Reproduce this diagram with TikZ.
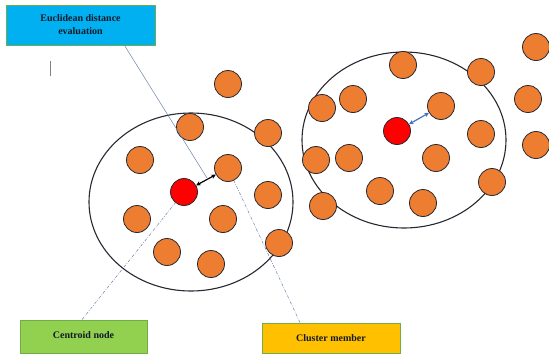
\documentclass[tikz,border=0pt]{standalone}
\usepackage{fontspec}
\setmainfont{Liberation Serif}
\usetikzlibrary{arrows.meta,calc}
\definecolor{orng}{RGB}{237,125,49}
\definecolor{rimc}{RGB}{40,40,50}
\definecolor{bluebox}{RGB}{0,176,240}
\definecolor{greenbox}{RGB}{146,208,80}
\definecolor{yelbox}{RGB}{255,192,0}
\definecolor{boxrim}{RGB}{112,173,71}
\definecolor{guide}{RGB}{110,130,170}
\definecolor{arrblue}{RGB}{68,114,196}
\definecolor{txt}{RGB}{20,25,40}
\tikzset{
  member/.style={circle,draw=rimc,line width=0.8pt,fill=orng,minimum size=27pt,inner sep=0pt},
  centroid/.style={circle,draw=rimc,line width=0.8pt,fill=red,minimum size=27pt,inner sep=0pt},
  cluster/.style={draw=rimc,line width=1.1pt},
  label box/.style={draw=boxrim,line width=0.8pt,inner sep=0pt,font=\fontsize{10}{13}\selectfont\bfseries,align=center,text=txt},
  guideline/.style={draw=guide,line width=0.5pt},
  dashguide/.style={draw=guide,line width=0.5pt,dash pattern=on 3pt off 1.5pt on 0.7pt off 1.5pt},
}
\begin{document}
\begin{tikzpicture}[x=1pt,y=-1pt]
\useasboundingbox (0,0) rectangle (549,354);
\fill[white] (0,0) rectangle (549,354);
% cluster ellipses
\draw[cluster] (191,202) ellipse [x radius=102, y radius=89];
\draw[cluster] (404,140) ellipse [x radius=102, y radius=88];
% left cluster
\node[member] (a1) at (190,127) {};
\node[member] (a2) at (268,133) {};
\node[member] (a3) at (140,160) {};
\node[member] (a4) at (228,168) {};
\node[member] (a5) at (268,195) {};
\node[member] (a6) at (137,219) {};
\node[member] (a7) at (223,219) {};
\node[member] (a8) at (279,243) {};
\node[member] (a9) at (167,252) {};
\node[member] (a10) at (211,264) {};
\node[member] (a11) at (228,84) {};
\node[centroid] (ca) at (184,192) {};
% right cluster
\node[member] (b1) at (403,65) {};
\node[member] (b2) at (481,72) {};
\node[member] (b3) at (536,47) {};
\node[member] (b4) at (353,99) {};
\node[member] (b5) at (322,108) {};
\node[member] (b6) at (441,106) {};
\node[member] (b7) at (528,99) {};
\node[member] (b8) at (481,134) {};
\node[member] (b9) at (536,145) {};
\node[member] (b10) at (316,160) {};
\node[member] (b11) at (349,158) {};
\node[member] (b12) at (436,158) {};
\node[member] (b13) at (492,182) {};
\node[member] (b14) at (380,191) {};
\node[member] (b15) at (423,203) {};
\node[member] (b16) at (323,206) {};
\node[centroid] (cb) at (397,131) {};
% distance arrows
\draw[{Stealth[length=4.5pt,width=4.5pt]}-{Stealth[length=4.5pt,width=4.5pt]},line width=1.2pt,black] (ca) -- (a4) coordinate[pos=0.5] (mida);
\draw[{Stealth[length=4.5pt,width=4.5pt]}-{Stealth[length=4.5pt,width=4.5pt]},line width=1.2pt,arrblue] (cb) -- (b6);
% label boxes
\node[label box,fill=bluebox,minimum width=149pt,minimum height=40pt] (euc) at (80.5,25) {Euclidean distance\\evaluation};
\node[label box,fill=greenbox,minimum width=127pt,minimum height=33pt,text depth=3pt] (cen) at (83.5,336.5) {Centroid node};
\node[label box,fill=yelbox,minimum width=138pt,minimum height=30pt] (mem) at (331,338) {Cluster member};
% small mark
\draw[gray,line width=1pt] (50,61) -- (50,76);
% guide lines
\path[guideline] ([xshift=44pt]euc.south) -- ($(mida)+(1,-2)$);
\path[dashguide] ([xshift=-1.5pt]cen.north) -- (ca);
\path[dashguide] ([xshift=-31pt]mem.north) -- (a4);
\end{tikzpicture}
\end{document}
